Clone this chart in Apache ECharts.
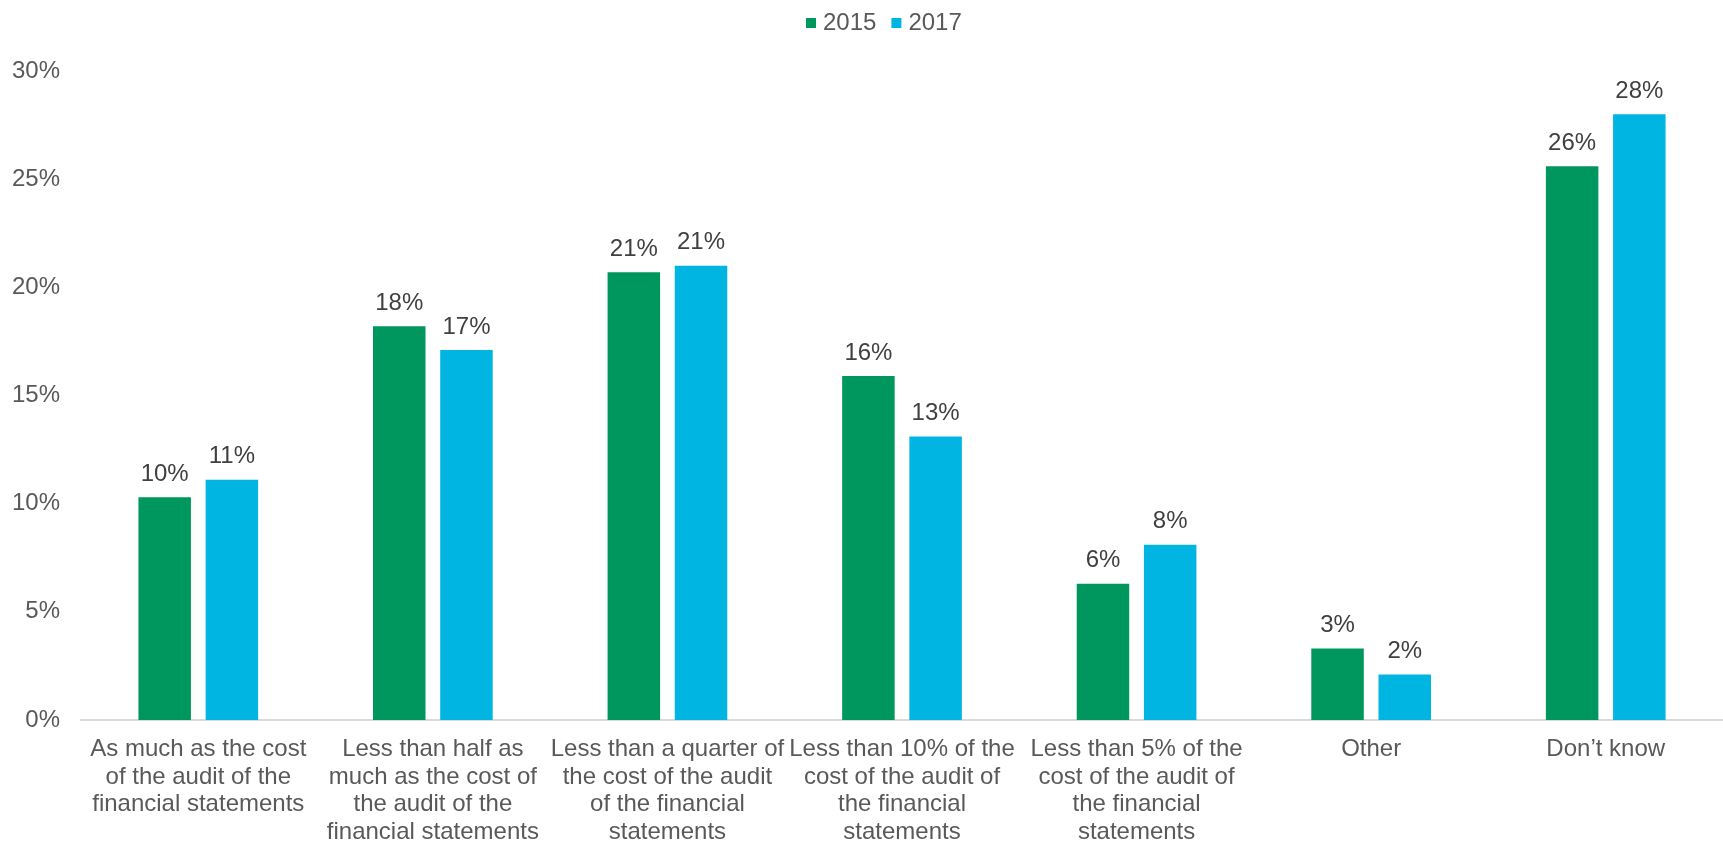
<!DOCTYPE html>
<html>
<head>
<meta charset="utf-8">
<title>Cost estimate by year</title>
<script src="https://cdn.jsdelivr.net/npm/echarts@6/dist/echarts.min.js"></script>
<style>
  html, body { margin: 0; padding: 0; background: #ffffff; }
  #chart { width: 1723px; height: 846px; }
</style>
</head>
<body>
<div id="chart"></div>
<script>
// Answer categories (line breaks as shown under the axis)
const categories = [
  'As much as the cost\nof the audit of the\nfinancial statements',
  'Less than half as\nmuch as the cost of\nthe audit of the\nfinancial statements',
  'Less than a quarter of\nthe cost of the audit\nof the financial\nstatements',
  'Less than 10% of the\ncost of the audit of\nthe financial\nstatements',
  'Less than 5% of the\ncost of the audit of\nthe financial\nstatements',
  'Other',
  'Don\u2019t know'
];

// Share of respondents, in percent
const values2015 = [10.3, 18.2, 20.7, 15.9, 6.3, 3.3, 25.6];
const values2017 = [11.1, 17.1, 21.0, 13.1, 8.1, 2.1, 28.0];

const seriesNames = ['2015', '2017'];
const seriesColors = ['#00975F', '#00B5E2'];

// Value axis ticks
const yMin = 0;
const yMax = 30;
const yStep = 5;

const FONT = '"Liberation Sans", Arial, sans-serif';

const chart = echarts.init(document.getElementById('chart'), null, { renderer: 'canvas' });

const makeSeries = (name, data, color) => ({
  name: name,
  type: 'bar',
  data: data,
  barWidth: 52.5,
  barGap: '28%',
  itemStyle: { color: color },
  label: {
    show: true,
    position: 'top',
    distance: 11,
    color: '#404040',
    fontSize: 24,
    fontFamily: FONT,
    formatter: p => Math.round(p.value) + '%'
  }
});

chart.setOption({
  animation: false,
  backgroundColor: '#ffffff',
  legend: {
    data: seriesNames,
    left: 801,
    top: 6,
    icon: 'rect',
    itemWidth: 10,
    itemHeight: 10,
    itemGap: 15,
    textStyle: { fontSize: 24, color: '#595959', fontFamily: FONT, padding: [0, 0, 0, 2] }
  },
  grid: {
    left: 81,
    right: 0,
    top: 71,
    bottom: 122,
    containLabel: false
  },
  xAxis: {
    type: 'category',
    data: categories,
    axisLine: { show: true, lineStyle: { color: '#D9D9D9', width: 2 } },
    axisTick: { show: false },
    axisLabel: {
      interval: 0,
      margin: 16,
      color: '#595959',
      fontSize: 24,
      lineHeight: 27.5,
      align: 'center',
      fontFamily: FONT
    }
  },
  yAxis: {
    type: 'value',
    min: yMin,
    max: yMax,
    interval: yStep,
    axisLine: { show: false },
    axisTick: { show: false },
    splitLine: { show: false },
    axisLabel: {
      margin: 21,
      padding: [4, 0, 0, 0],
      color: '#595959',
      fontSize: 24,
      fontFamily: FONT,
      formatter: '{value}%'
    }
  },
  series: [
    makeSeries(seriesNames[0], values2015, seriesColors[0]),
    makeSeries(seriesNames[1], values2017, seriesColors[1])
  ]
});
</script>
</body>
</html>
